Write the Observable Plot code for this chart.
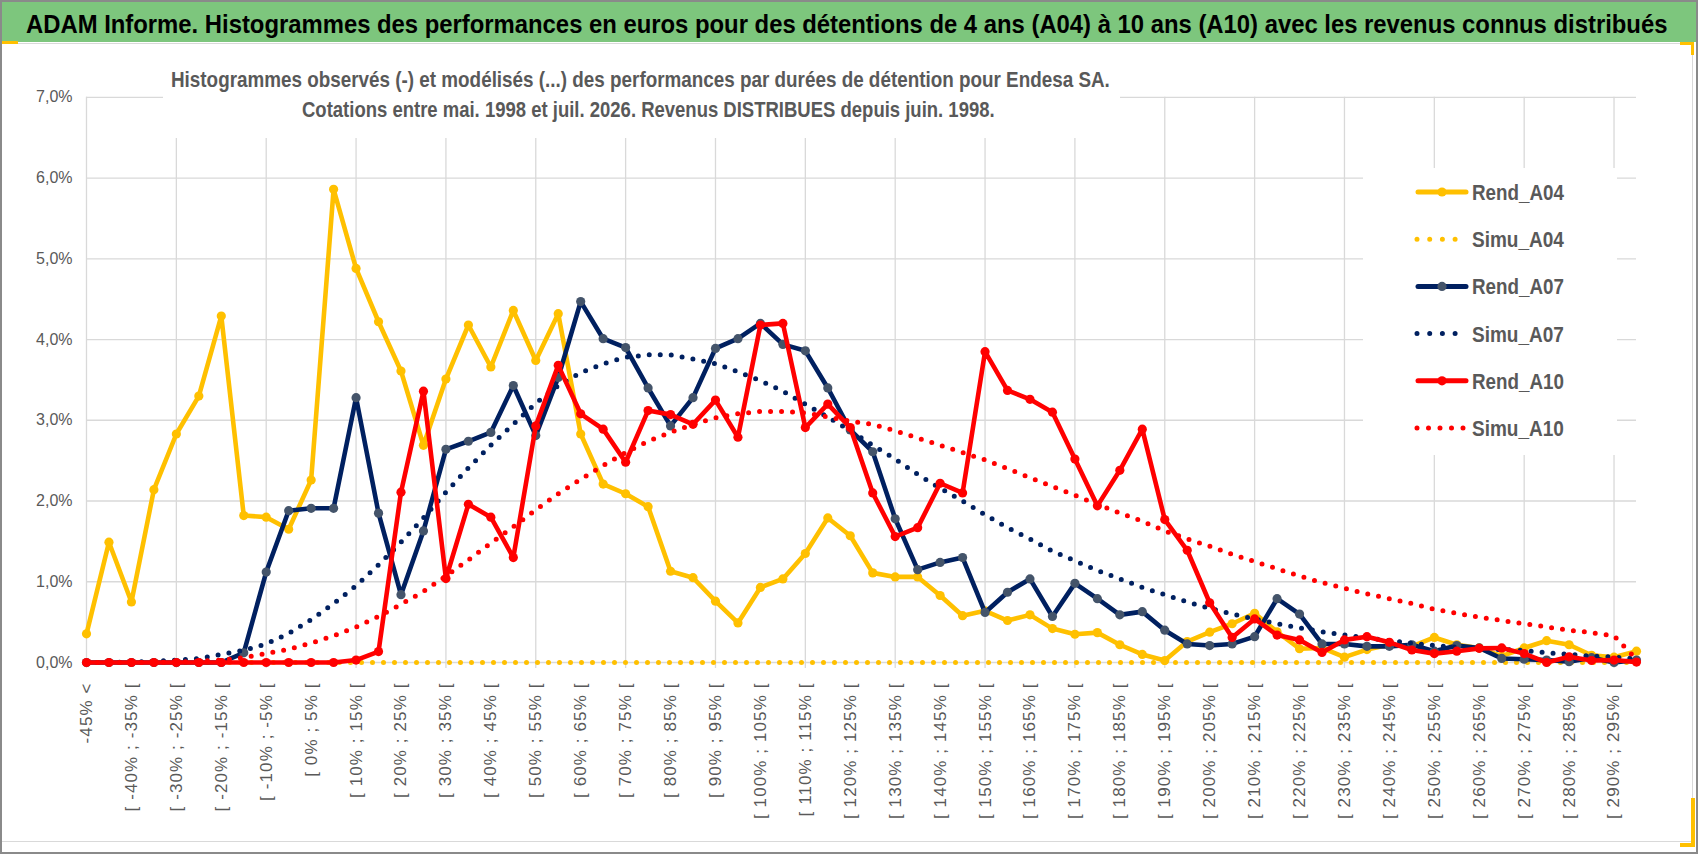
<!DOCTYPE html>
<html><head><meta charset="utf-8">
<script src="https://cdn.jsdelivr.net/npm/d3@7"></script>
<script src="https://cdn.jsdelivr.net/npm/@observablehq/plot@0.6"></script>
<style>
body{margin:0;background:#fff;}
#page{position:relative;width:1698px;height:854px;overflow:hidden;background:#fff;font-family:"Liberation Sans",Arial,sans-serif;}
#band{position:absolute;left:2px;top:2px;width:1694px;height:40px;background:#7dc67d;}
#area{position:absolute;left:0;top:43px;width:1693px;height:799px;border-top:1.5px solid #d9d9d9;border-right:1.5px solid #d9d9d9;border-bottom:1.5px solid #d9d9d9;box-sizing:border-box;}
#chart{position:absolute;left:0;top:44px;}
#over{position:absolute;left:0;top:0;}
#frame{position:absolute;left:0;top:0;width:1698px;height:854px;border:2px solid #8a8a8a;box-sizing:border-box;pointer-events:none;}
.hy{position:absolute;background:#ffc000;}
</style></head>
<body><div id="page">
<div id="band"></div>
<div id="area"></div>
<div id="chart"></div>
<svg id="over" width="1698" height="854"></svg>
<div class="hy" style="left:2px;top:41px;width:16px;height:3px"></div>
<div class="hy" style="left:1680px;top:42px;width:14px;height:3px"></div>
<div class="hy" style="left:1691px;top:42px;width:3px;height:13px"></div>
<div class="hy" style="left:1691px;top:798px;width:4px;height:49px"></div>
<div class="hy" style="left:1680px;top:843px;width:15px;height:4px"></div>
<div id="frame"></div>
</div>
<script>
const categories = ["-45% <","[ -45% ; -40% [","[ -40% ; -35% [","[ -35% ; -30% [","[ -30% ; -25% [","[ -25% ; -20% [","[ -20% ; -15% [","[ -15% ; -10% [","[ -10% ; -5% [","[ -5% ; 0% [",
"[ 0% ; 5% [","[ 5% ; 10% [","[ 10% ; 15% [","[ 15% ; 20% [","[ 20% ; 25% [","[ 25% ; 30% [","[ 30% ; 35% [","[ 35% ; 40% [","[ 40% ; 45% [","[ 45% ; 50% [",
"[ 50% ; 55% [","[ 55% ; 60% [","[ 60% ; 65% [","[ 65% ; 70% [","[ 70% ; 75% [","[ 75% ; 80% [","[ 80% ; 85% [","[ 85% ; 90% [","[ 90% ; 95% [","[ 95% ; 100% [",
"[ 100% ; 105% [","[ 105% ; 110% [","[ 110% ; 115% [","[ 115% ; 120% [","[ 120% ; 125% [","[ 125% ; 130% [","[ 130% ; 135% [","[ 135% ; 140% [","[ 140% ; 145% [","[ 145% ; 150% [",
"[ 150% ; 155% [","[ 155% ; 160% [","[ 160% ; 165% [","[ 165% ; 170% [","[ 170% ; 175% [","[ 175% ; 180% [","[ 180% ; 185% [","[ 185% ; 190% [","[ 190% ; 195% [","[ 195% ; 200% [",
"[ 200% ; 205% [","[ 205% ; 210% [","[ 210% ; 215% [","[ 215% ; 220% [","[ 220% ; 225% [","[ 225% ; 230% [","[ 230% ; 235% [","[ 235% ; 240% [","[ 240% ; 245% [","[ 245% ; 250% [",
"[ 250% ; 255% [","[ 255% ; 260% [","[ 260% ; 265% [","[ 265% ; 270% [","[ 270% ; 275% [","[ 275% ; 280% [","[ 280% ; 285% [","[ 285% ; 290% [","[ 290% ; 295% [","[ 295% ; 300% ["];

const rendA04 = [0.355,1.49,0.75,2.14,2.83,3.30,4.29,1.82,1.80,1.65,
2.26,5.86,4.88,4.22,3.61,2.69,3.51,4.18,3.66,4.36,
3.74,4.32,2.83,2.21,2.09,1.93,1.13,1.05,0.76,0.49,
0.93,1.035,1.35,1.79,1.57,1.11,1.06,1.06,0.83,0.58,
0.64,0.52,0.59,0.42,0.35,0.37,0.22,0.10,0.025,0.26,
0.375,0.48,0.61,0.38,0.17,0.18,0.066,0.16,0.22,0.20,
0.31,0.22,0.18,0.08,0.18,0.27,0.22,0.09,0.066,0.14];
const simuA04 = [0,0,0,0,0,0,0,0,0,0, 0,0,0,0,0,0,0,0,0,0, 0,0,0,0,0,0,0,0,0,0, 0,0,0,0,0,0,0,0,0,0, 0,0,0,0,0,0,0,0,0,0, 0,0,0,0,0,0,0,0,0,0, 0,0,0,0,0,0,0,0,0,0];
const rendA07 = [0,0,0,0,0,0,0,0.12,1.12,1.88,
1.91,1.91,3.28,1.85,0.84,1.63,2.64,2.74,2.85,3.43,
2.81,3.53,4.47,4.01,3.90,3.40,2.93,3.28,3.89,4.01,
4.20,3.94,3.86,3.40,2.88,2.61,1.78,1.15,1.24,1.30,
0.62,0.87,1.035,0.57,0.98,0.79,0.59,0.63,0.40,0.23,
0.21,0.23,0.32,0.79,0.60,0.23,0.23,0.20,0.20,0.22,
0.14,0.21,0.18,0.05,0.04,0.03,0.01,0.06,0.0,0.03];
const simuA07 = [0,0,0.005,0.015,0.03,0.05,0.10,0.15,0.23,0.36,
0.53,0.73,0.95,1.21,1.49,1.79,2.11,2.41,2.69,2.95,
3.21,3.43,3.59,3.70,3.78,3.81,3.81,3.76,3.70,3.60,
3.49,3.36,3.20,3.04,2.87,2.69,2.52,2.33,2.16,2.00,
1.83,1.67,1.53,1.38,1.26,1.14,1.035,0.93,0.84,0.75,
0.67,0.60,0.54,0.48,0.43,0.38,0.34,0.305,0.27,0.24,
0.21,0.19,0.17,0.16,0.15,0.12,0.10,0.08,0.066,0.045];
const rendA10 = [0,0,0,0,0,0,0,0,0,0,
0,0,0.03,0.135,2.11,3.36,1.04,1.96,1.80,1.30,
2.93,3.68,3.08,2.89,2.48,3.12,3.07,2.95,3.25,2.79,
4.18,4.20,2.91,3.20,2.91,2.10,1.56,1.67,2.22,2.10,
3.85,3.37,3.26,3.10,2.52,1.94,2.38,2.89,1.77,1.39,
0.74,0.31,0.54,0.34,0.28,0.125,0.28,0.32,0.25,0.155,
0.11,0.14,0.175,0.18,0.11,0.0,0.07,0.025,0.03,0.005];
const simuA10 = [0,0,0,0,0.005,0.015,0.03,0.06,0.11,0.165,
0.24,0.33,0.44,0.57,0.72,0.88,1.07,1.27,1.48,1.68,
1.89,2.09,2.27,2.44,2.60,2.74,2.85,2.95,3.03,3.08,
3.11,3.11,3.09,3.04,2.99,2.95,2.87,2.78,2.69,2.60,
2.51,2.40,2.29,2.18,2.07,1.96,1.85,1.75,1.63,1.53,
1.44,1.34,1.25,1.16,1.07,0.99,0.92,0.85,0.79,0.73,
0.66,0.61,0.56,0.52,0.48,0.44,0.40,0.37,0.33,0.04];

const yTicks = [0,1,2,3,4,5,6,7];
const seriesNames = ["Rend_A04","Simu_A04","Rend_A07","Simu_A07","Rend_A10","Simu_A10"];
const seriesValues = [rendA04, simuA04, rendA07, simuA07, rendA10, simuA10];
const seriesColors = ["#ffc000","#ffc000","#002060","#002060","#ff0000","#ff0000"];
const markerColors = ["#ffc000",null,"#44546a",null,"#ff0000",null];

const titleText = "ADAM Informe. Histogrammes des performances en euros pour des détentions de 4 ans (A04) à 10 ans (A10) avec les revenus connus distribués";
const subtitle1 = "Histogrammes observés (-) et modélisés (...) des performances par durées de détention pour Endesa SA.";
const subtitle2 = "Cotations entre mai. 1998 et juil. 2026. Revenus DISTRIBUES depuis juin. 1998.";

const FONT = '"Liberation Sans", Arial, sans-serif';
const gridCats = categories.filter((d, i) => i % 4 === 0);
const labelCats = categories.filter((d, i) => i % 2 === 0);
const fmtPct = d => d.toFixed(1).replace(".", ",") + "%";

const marks = [
  Plot.ruleY(yTicks, {stroke: "#d9d9d9", strokeWidth: 1.3}),
  Plot.ruleX(gridCats, {stroke: "#d9d9d9", strokeWidth: 1.3, insetBottom: -6}),
  Plot.axisY(yTicks, {tickSize: 0, tickPadding: 14, fontSize: 16, fill: "#595959", tickFormat: fmtPct, label: null}),
  Plot.axisX(labelCats, {tickRotate: -90, tickSize: 0, tickPadding: 20, fontSize: 17, fill: "#595959", label: null})
];
seriesNames.forEach((name, k) => {
  const rows = seriesValues[k].map((v, i) => ({cat: categories[i], v}));
  const dotted = name.startsWith("Simu");
  marks.push(Plot.line(rows, {
    x: "cat", y: "v", stroke: seriesColors[k],
    strokeWidth: dotted ? 5 : 4.6,
    strokeLinejoin: "round", strokeLinecap: "round",
    strokeDasharray: dotted ? "0 11" : null
  }));
  if (markerColors[k]) {
    marks.push(Plot.dot(rows, {x: "cat", y: "v", r: 4.6, fill: markerColors[k], stroke: null}));
  }
});

const chart = Plot.plot({
  width: 1693, height: 798,
  marginLeft: 86, marginRight: 57, marginTop: 52.8, marginBottom: 180,
  x: {type: "point", domain: categories, padding: 0},
  y: {domain: [0, 7]},
  style: {fontFamily: FONT, background: "transparent", overflow: "visible"},
  marks
});
d3.select(chart).selectAll('[aria-label="x-axis tick label"] text').attr("letter-spacing", "1.1");
document.getElementById("chart").appendChild(chart);

// overlay: title, subtitle, legend — each text fitted to its measured width
const over = d3.select("#over").style("font-family", FONT);
function fitText(str, x, y, targetW, size, fill) {
  const t = over.append("text").attr("x", 0).attr("y", 0).attr("font-size", size)
    .attr("font-weight", "bold").attr("fill", fill).text(str);
  const w = t.node().getComputedTextLength();
  const s = targetW / w;
  const fs = size * s;
  t.attr("font-size", fs).attr("transform", `translate(${x},${y}) scale(1,${1 / s})`);
  return t;
}
fitText(titleText, 26, 33, 1642, 25, "#000");

over.append("rect").attr("x", 163).attr("y", 56).attr("width", 957).attr("height", 82).attr("fill", "#fff");
fitText(subtitle1, 171, 87, 939, 21.5, "#595959");
fitText(subtitle2, 302, 117, 693, 21.5, "#595959");

over.append("rect").attr("x", 1363).attr("y", 168).attr("width", 254).attr("height", 287).attr("fill", "#fff");
seriesNames.forEach((name, k) => {
  const cy = 192 + k * 47.2;
  const dotted = name.startsWith("Simu");
  if (dotted) {
    over.append("line").attr("x1", 1417).attr("x2", 1467).attr("y1", cy).attr("y2", cy)
      .attr("stroke", seriesColors[k]).attr("stroke-width", 5).attr("stroke-linecap", "round")
      .attr("stroke-dasharray", k === 5 ? "0 11.5" : "0 12.7");
  } else {
    over.append("line").attr("x1", 1418).attr("x2", 1466).attr("y1", cy).attr("y2", cy)
      .attr("stroke", seriesColors[k]).attr("stroke-width", 5).attr("stroke-linecap", "round");
    over.append("circle").attr("cx", 1442).attr("cy", cy).attr("r", 4.6).attr("fill", markerColors[k]);
  }
  fitText(name, 1472, cy + 8, 92, 22, "#595959");
});
</script>
</body></html>
